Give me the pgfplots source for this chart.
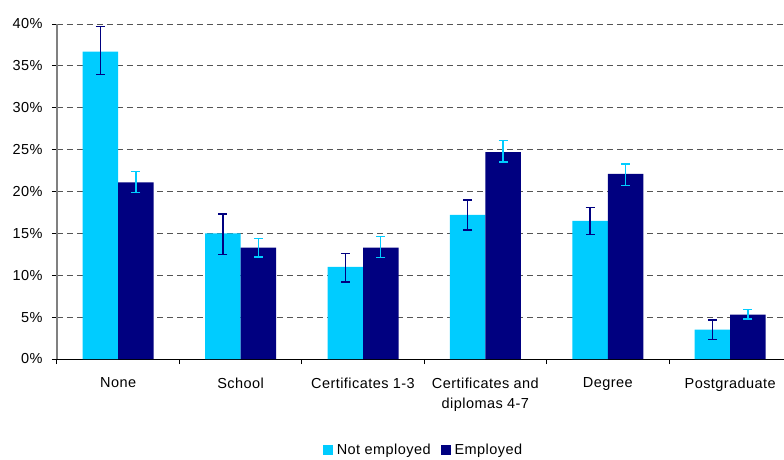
\documentclass[border=0pt]{standalone}
\usepackage{pgfplots}
\pgfplotsset{compat=1.18}
\usepackage{fontspec}
\setmainfont[LetterSpace=3]{Liberation Sans}
\definecolor{lightb}{HTML}{00CCFF}
\definecolor{darkb}{HTML}{000080}
\definecolor{gridc}{HTML}{555555}
\begin{document}
\begin{tikzpicture}[x=1pt,y=1pt]
\begin{axis}[
  scale only axis, width=734.4pt, height=335pt,
  xmin=-0.5, xmax=5.5, ymin=0, ymax=40,
  ybar=0pt, bar width=35.5pt,
  axis x line*=bottom, axis y line*=left,
  x axis line style={black, line width=1pt, -},
  y axis line style={gray, line width=1.5pt, -},
  xtick={-0.5,0.5,...,5.5},
  x tick label as interval,
  xticklabels={None,School,Certificates 1-3,{Certificates and\\diplomas 4-7},Degree,Postgraduate},
  xticklabel style={align=center, yshift=-10pt, font=\fontsize{14.5}{20}\selectfont},
  ytick={0,5,...,40},
  yticklabels={0\%,5\%,10\%,15\%,20\%,25\%,30\%,35\%,40\%},
  yticklabel style={xshift=-6pt, font=\fontsize{14.5}{17}\selectfont},
  tick align=outside, major tick length=5pt,
  x tick style={black, line width=1pt},
  y tick style={black, line width=1pt},
  ymajorgrids,
  grid style={gridc, line width=1pt, dash pattern=on 6pt off 4pt},
  legend style={at={(axis description cs:0.499,-0.271)}, anchor=center, draw=none, fill=none,
    legend columns=2, font=\fontsize{14.5}{17}\selectfont,
    /tikz/every odd column/.append style={column sep=2pt},
    /tikz/every even column/.append style={column sep=8pt}},
  legend image code/.code={\fill[#1,draw=none] (0pt,-5pt) rectangle (10pt,5pt);},
]
\addplot[fill=lightb, draw=none,
  error bars/.cd, y dir=both, y explicit,
  error bar style={darkb, line width=1.4pt},
  error mark options={rotate=90, mark size=4.5pt, darkb, line width=1.4pt}]
  coordinates {
  (0,36.7) += (0,3.0) -= (0,2.7)
  (1,15.0) += (0,2.3) -= (0,2.5)
  (2,11.0) += (0,1.6) -= (0,1.8)
  (3,17.2) += (0,1.8) -= (0,1.8)
  (4,16.5) += (0,1.6) -= (0,1.6)
  (5,3.5) += (0,1.15) -= (0,1.15)
  };
\addplot[fill=darkb, draw=none,
  error bars/.cd, y dir=both, y explicit,
  error bar style={lightb, line width=1.4pt},
  error mark options={rotate=90, mark size=4.5pt, lightb, line width=1.4pt}]
  coordinates {
  (0,21.1) += (0,1.3) -= (0,1.2)
  (1,13.3) += (0,1.1) -= (0,1.1)
  (2,13.3) += (0,1.3) -= (0,1.2)
  (3,24.7) += (0,1.4) -= (0,1.2)
  (4,22.1) += (0,1.2) -= (0,1.4)
  (5,5.3) += (0,0.6) -= (0,0.5)
  };
\legend{Not employed, Employed}
\end{axis}
\pgfresetboundingbox
\useasboundingbox (-57,-100) rectangle (727,359);
\end{tikzpicture}
\end{document}
